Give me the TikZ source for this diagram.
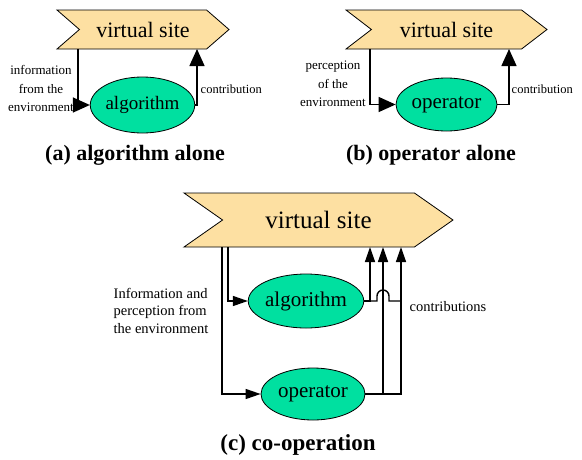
\documentclass[tikz,border=0pt]{standalone}
\usepackage{fontspec}
\setmainfont{Liberation Serif}
\usepackage{tikz}
\usetikzlibrary{shapes.geometric, shapes.symbols, arrows.meta}
\definecolor{sitefill}{HTML}{FDE0A2}
\definecolor{agentfill}{HTML}{00E0A0}
\tikzset{
  siteSh/.style={ draw, signal, signal from=west, signal to=east, fill=sitefill, inner sep=0pt, line width=0.8pt }
}
\tikzset{
  agentEl/.style={ draw, ellipse, fill=agentfill, inner sep=0pt, line width=0.8pt }
}
\tikzset{
  lbl/.style={ align=center, inner sep=0pt, font=\fontsize{13}{18.5}\selectfont }
}
\tikzset{
  capt/.style={ inner sep=0pt, font=\bfseries\fontsize{22}{26}\selectfont }
}
\begin{document}
\begin{tikzpicture}[x=1pt, y=-1pt, line width=1.4pt, >={Triangle[length=17pt, width=15pt]}]
      \useasboundingbox (0, 0) rectangle (582, 459);
      % (a) algorithm alone
      \node[siteSh, signal pointer angle=82, minimum width=172pt, minimum height=39pt, font=\fontsize{22}{26}\selectfont] (siteA) at (143, 29.5) {virtual site};
      \node[agentEl, minimum width=87pt, minimum height=56pt, font=\fontsize{19}{22}\selectfont] (algA) at (142.5, 105) {algorithm};
      \coordinate (inA) at (78, 49);
      \coordinate (outA) at (197, 49);
      \draw[->] (inA) |- (algA.west);
      \draw[->] (algA.east) -| (outA);
      \node[lbl] (infoA) at (41, 88.5) {information\\from the\\environment};
      \node[lbl, anchor=west, font=\fontsize{12.5}{15}\selectfont] (contA) at (200, 89) {contribution};
      \node[capt] (captA) at (135, 155) {(a) algorithm alone};

      % (b) operator alone
      \node[siteSh, signal pointer angle=75, minimum width=201pt, minimum height=39pt, font=\fontsize{22}{26}\selectfont] (siteB) at (446.5, 29.5) {virtual site};
      \node[agentEl, minimum width=101pt, minimum height=53pt, font=\fontsize{21}{24}\selectfont] (opB) at (446.5, 104.5) {operator};
      \coordinate (inB) at (370, 49);
      \coordinate (outB) at (509, 49);
      \draw[->] (inB) |- (opB.west);
      \draw[->] (opB.east) -| (outB);
      \node[lbl] (infoB) at (333, 84) {perception\\of the\\environment};
      \node[lbl, anchor=west, font=\fontsize{12.5}{15}\selectfont] (contB) at (511, 89) {contribution};
      \node[capt] (captB) at (431, 155) {(b) operator alone};

      % (c) co-operation
      \node[siteSh, signal pointer angle=70, minimum width=269pt, minimum height=54pt, font=\fontsize{25}{30}\selectfont] (siteC) at (318.5, 220) {virtual site};
      \node[agentEl, minimum width=104pt, minimum height=54pt, font=\fontsize{21}{24}\selectfont] (algC) at (306, 301) {algorithm};
      \node[agentEl, minimum width=104pt, minimum height=52pt, font=\fontsize{21}{24}\selectfont] (opC) at (313, 394) {operator};
      \coordinate (inOp) at (222, 247);
      \coordinate (inAlg) at (228, 247);
      \coordinate (outC1) at (370, 247);
      \coordinate (outC2) at (383, 247);
      \coordinate (outC3) at (401, 247);
      \coordinate (hopL) at (377, 301);
      \coordinate (hopR) at (389, 301);
      \coordinate (joinC) at (401, 301);
      \begin{scope}[>={Triangle[length=15pt, width=10pt]}]
        \draw[->] (inAlg) |- (algC.west);
        \draw[->] (inOp) |- (opC.west);
        \draw[->] (algC.east) -| (outC1);
        \draw[->] (opC.east) -| (outC2);
        \draw[->] (opC.east) -| (outC3);
        \draw (algC.east) -- (hopL) -- ++(0, -5) arc[start angle=180, end angle=0, radius=6pt] -- (hopR) -- (joinC);
      \end{scope}
      \node[lbl, align=left, anchor=west, font=\fontsize{14.5}{17.5}\selectfont] (infoC) at (113, 310.5) {Information and\\perception from\\the environment};
      \node[lbl, anchor=west, font=\fontsize{14.5}{17}\selectfont] (contC) at (409, 307) {contributions};
      \node[capt, font=\bfseries\fontsize{23}{27}\selectfont] (captC) at (298, 445) {(c) co-operation};
    \end{tikzpicture}
\end{document}
